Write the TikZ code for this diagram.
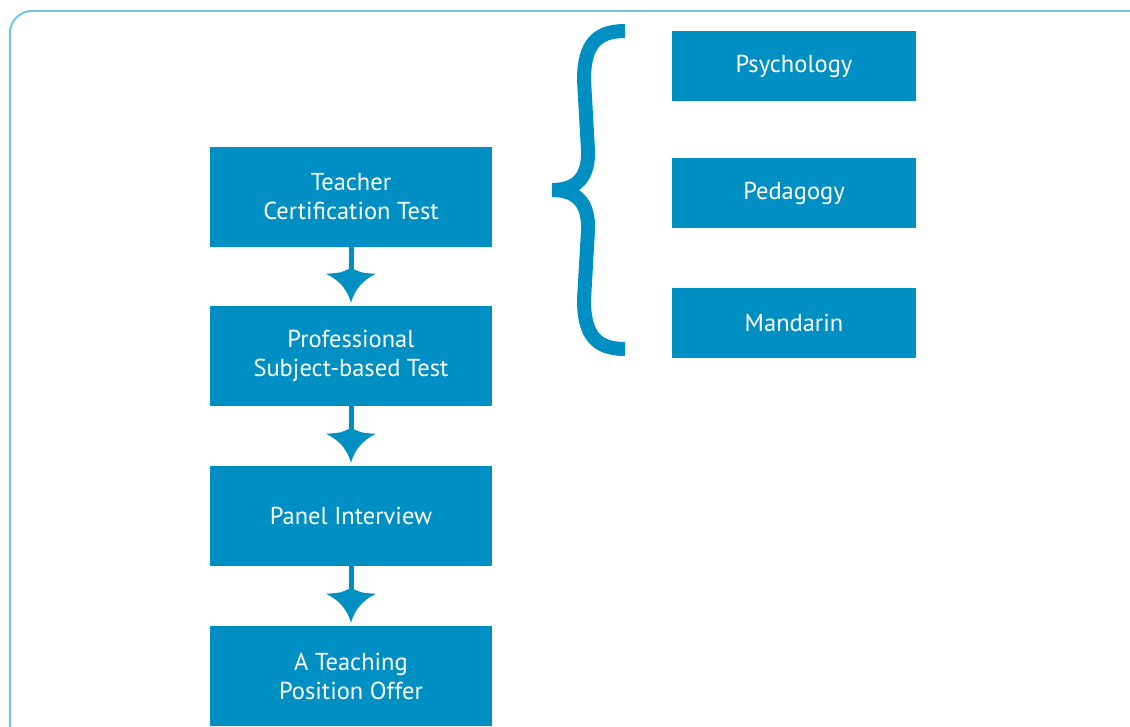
\documentclass[tikz,border=0pt]{standalone}
\usepackage{fontspec}
\setmainfont{PT Sans}
\usetikzlibrary{calc}
\definecolor{boxblue}{HTML}{008FC2}
\definecolor{framecol}{HTML}{72C3E0}
\begin{document}
\begin{tikzpicture}[x=1pt,y=-1pt,
  stepbox/.style={fill=boxblue, text=white, minimum width=282pt, minimum height=100pt, align=center, inner sep=0pt, font=\fontsize{24.5}{29}\selectfont},
  topicbox/.style={fill=boxblue, text=white, minimum width=244pt, minimum height=70pt, align=center, inner sep=0pt, font=\fontsize{24.5}{29}\selectfont},
  shaft/.style={draw=boxblue, line width=5pt},
  bracestroke/.style={draw=boxblue, line width=14pt, line cap=butt}]
\useasboundingbox (0,0) rectangle (1130,727);
\begin{scope}
  \clip (0,0) rectangle (1130,727);
  \draw[framecol, line width=2pt, rounded corners=22pt] (10,800) -- (10,11) -- (1200,11);
\end{scope}
% steps
\node[stepbox] (t1) at (351,197) {Teacher\\Certification Test};
\node[stepbox] (t2) at (351,356) {Professional\\Subject-based Test};
\node[stepbox] (t3) at (351,516) {Panel Interview};
\node[stepbox] (t4) at (351,676) {A Teaching\\Position Offer};
% topics
\node[topicbox] (p1) at (794,66) {Psychology};
\node[topicbox] (p2) at (794,193) {Pedagogy};
\node[topicbox] (p3) at (794,323) {Mandarin};
% arrows
\foreach \a/\b in {t1/t2, t2/t3, t3/t4}{
  \draw[shaft] (\a.south) -- ($(\b.north)+(0,-30)$);
  \begin{scope}[shift={(\b.north)}]
    \fill[boxblue] (-25,-32) .. controls (-10,-33) .. (0,-38) .. controls (10,-33) .. (25,-32)
      .. controls (10,-25) and (3,-14) .. (0,-3) .. controls (-3,-14) and (-10,-25) .. (-25,-32) -- cycle;
  \end{scope}
}
% brace
\coordinate (btip) at (552,190);
\coordinate (btop) at (625,31);
\coordinate (bbot) at (625,349);
\draw[bracestroke] (btop) .. controls (597,31) and (584,44) .. (584,80)
  -- (588,150) .. controls (589,178) and (576,190) .. (btip);
\draw[bracestroke] (btip) .. controls (576,190) and (589,202) .. (588,230)
  -- (584,300) .. controls (584,336) and (597,349) .. (bbot);
\end{tikzpicture}
\end{document}
